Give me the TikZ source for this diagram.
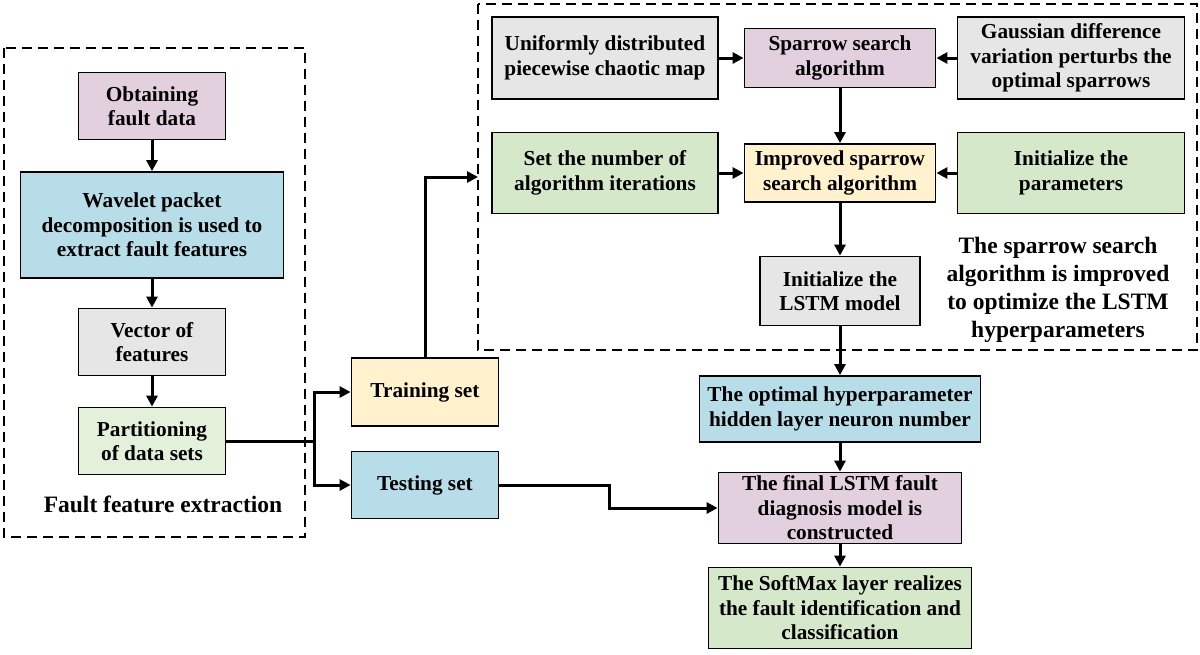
\documentclass[tikz,border=0pt]{standalone}
\usepackage{fontspec}
\setmainfont{Liberation Serif}
\usetikzlibrary{arrows.meta}
\definecolor{pinkbox}{HTML}{E2D0DE}
\definecolor{bluebox}{HTML}{B7DEE8}
\definecolor{graybox}{HTML}{E6E6E6}
\definecolor{greenbox}{HTML}{D6E8CA}
\definecolor{palegreen}{HTML}{E3F0DA}
\definecolor{yellowbox}{HTML}{FFF2CC}
\tikzset{
  box/.style={draw, line width=1.8pt, align=center, inner sep=2pt,
    font=\bfseries\fontsize{21.3}{24.5}\selectfont},
  caption/.style={align=center, font=\bfseries\fontsize{23.5}{28}\selectfont},
  frame/.style={line width=2.2pt, dash pattern=on 10pt off 6pt},
  arrow/.style={line width=3pt, -{Triangle[length=11pt,width=11pt]}},
  link/.style={line width=3pt}
}
\begin{document}
\begin{tikzpicture}[x=1pt, y=-1pt]
		\useasboundingbox (0,0) rectangle (1200,654);
		\draw[frame] (4,48) rectangle (305,537);
		\draw[frame] (478,4) rectangle (1197,350);

		\node[box, fill=pinkbox, minimum width=147pt, minimum height=67pt]   (obtain)    at (152,106) {Obtaining\\fault data};
		\node[box, fill=bluebox, minimum width=263pt, minimum height=106pt]  (wavelet)   at (152,225) {Wavelet packet\\decomposition is used to\\extract fault features};
		\node[box, fill=graybox, minimum width=147pt, minimum height=67pt]   (vector)    at (152,342) {Vector of\\features};
		\node[box, fill=palegreen, minimum width=147pt, minimum height=67pt] (partition) at (152,441) {Partitioning\\of data sets};
		\node[caption] (extraction) at (163,504) {Fault feature extraction};

		\node[box, fill=yellowbox, minimum width=147pt, minimum height=68pt] (training) at (425,392) {Training set};
		\node[box, fill=bluebox, minimum width=147pt, minimum height=67pt]   (testing)  at (425,485) {Testing set};
		\coordinate (split) at (314,441);
		\coordinate (optin) at (478,177);
		\coordinate (bend)  at (609,508);

		\node[box, fill=graybox, minimum width=226pt, minimum height=82pt]   (uniform)  at (605,58)  {Uniformly distributed\\piecewise chaotic map};
		\node[box, fill=pinkbox, minimum width=191pt, minimum height=59pt]   (sparrow)  at (840,58)  {Sparrow search\\algorithm};
		\node[box, fill=graybox, minimum width=227pt, minimum height=82pt]   (gauss)    at (1071,58) {Gaussian difference\\variation perturbs the\\optimal sparrows};
		\node[box, fill=greenbox, minimum width=226pt, minimum height=81pt]  (iters)    at (605,173) {Set the number of\\algorithm iterations};
		\node[box, fill=yellowbox, minimum width=191pt, minimum height=58pt] (improved) at (840,173) {Improved sparrow\\search algorithm};
		\node[box, fill=greenbox, minimum width=227pt, minimum height=81pt]  (params)   at (1071,173) {Initialize the\\parameters};
		\node[box, fill=graybox, minimum width=160pt, minimum height=69pt]   (lstm)     at (840,291) {Initialize the\\LSTM model};
		\node[caption] (improvement) at (1058,290) {The sparrow search\\algorithm is improved\\to optimize the LSTM\\hyperparameters};

		\node[box, fill=bluebox, minimum width=281pt, minimum height=66pt]  (optimal) at (840,409) {The optimal hyperparameter\\hidden layer neuron number};
		\node[box, fill=pinkbox, minimum width=243pt, minimum height=71pt]  (final)   at (840,508) {The final LSTM fault\\diagnosis model is\\constructed};
		\node[box, fill=greenbox, minimum width=263pt, minimum height=81pt] (softmax) at (840,608) {The SoftMax layer realizes\\the fault identification and\\classification};

		\draw[arrow] (obtain) -- (wavelet);
		\draw[arrow] (wavelet) -- (vector);
		\draw[arrow] (vector) -- (partition);
		\draw[link] (partition) -- (split);
		\draw[arrow] (split) |- (training);
		\draw[arrow] (split) |- (testing);
		\draw[arrow] (training) |- (optin);
		\draw[arrow] (testing) -| (bend) -- (final);

		\draw[arrow] (uniform) -- (sparrow);
		\draw[arrow] (gauss) -- (sparrow);
		\draw[arrow] (sparrow) -- (improved);
		\draw[arrow] (iters) -- (improved);
		\draw[arrow] (params) -- (improved);
		\draw[arrow] (improved) -- (lstm);
		\draw[arrow] (lstm) -- (optimal);
		\draw[arrow] (optimal) -- (final);
		\draw[arrow] (final) -- (softmax);
	\end{tikzpicture}
\end{document}
